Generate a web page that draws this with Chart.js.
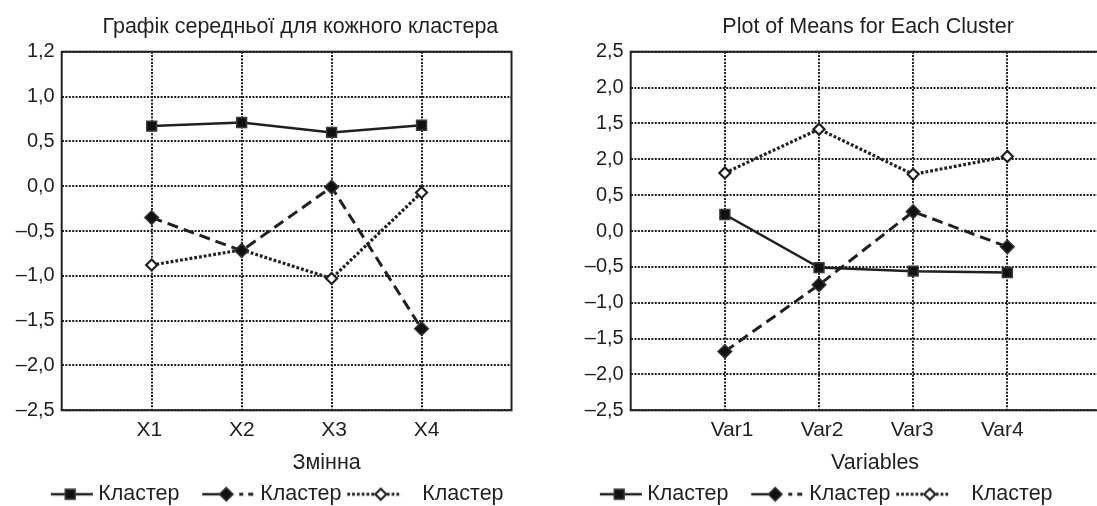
<!DOCTYPE html>
<html>
<head>
<meta charset="utf-8">
<script src="https://cdn.jsdelivr.net/npm/chart.js@4/dist/chart.umd.min.js"></script>
<style>
  html, body { margin: 0; padding: 0; background: #fff; overflow: hidden; }
  body { width: 1097px; height: 506px; position: relative; }
  canvas { position: absolute; top: 0; }
  #left { left: 0; }
  #right { left: 510px; }
</style>
</head>
<body>
<canvas id="left" width="520" height="515"></canvas>
<canvas id="right" width="600" height="515"></canvas>
<script>
const legendLabel = 'Кластер'

const leftTitle = 'Графік середньої для кожного кластера'
const leftAxisTitle = 'Змінна'
const leftCategories = ['X1', 'X2', 'X3', 'X4']
const leftYTicks = [-2.5, -2, -1.5, -1, -0.5, 0, 0.5, 1, 1.5]
const leftYLabels = ['–2,5', '–2,0', '–1,5', '–1,0', '–0,5', '0,0', '0,5', '1,0', '1,2']
const leftCluster1 = [0.67, 0.71, 0.60, 0.68]
const leftCluster2 = [-0.35, -0.72, -0.01, -1.59]
const leftCluster3 = [-0.88, -0.71, -1.03, -0.07]

const rightTitle = 'Plot of Means for Each Cluster'
const rightAxisTitle = 'Variables'
const rightCategories = ['Var1', 'Var2', 'Var3', 'Var4']
const rightYTicks = [-2.5, -2, -1.5, -1, -0.5, 0, 0.5, 1, 1.5, 2, 2.5]
const rightYLabels = ['–2,5', '–2,0', '–1,5', '–1,0', '–0,5', '0,0', '0,5', '2,0', '1,5', '2,0', '2,5']
const rightCluster1 = [0.23, -0.51, -0.56, -0.58]
const rightCluster2 = [-1.68, -0.75, 0.27, -0.22]
const rightCluster3 = [0.81, 1.42, 0.79, 1.04]

const ink = '#231f20'
const textSize = 21.5
Chart.defaults.font.family = "'Liberation Sans', Arial, sans-serif"
Chart.defaults.font.size = 20
Chart.defaults.color = ink

const seriesStyles = [
  { borderDash: [], borderWidth: 2.5, pointStyle: 'rect', pointRadius: 7, pointBackgroundColor: '#111', pointBorderColor: '#3a3a3a', pointBorderWidth: 1.5 },
  { borderDash: [11, 6], borderWidth: 3, pointStyle: 'rectRot', pointRadius: 6.8, pointBackgroundColor: '#111', pointBorderColor: '#333', pointBorderWidth: 1.5 },
  { borderDash: [2.8, 2], borderWidth: 3.2, pointStyle: 'rectRot', pointRadius: 5.5, pointBackgroundColor: '#fff', pointBorderColor: ink, pointBorderWidth: 2.2 },
]

// little line+marker pictures for the legend, offsets are from the legend box centre
function legendSample(k) {
  const c = document.createElement('canvas')
  c.width = 80
  c.height = 20
  const g = c.getContext('2d')
  const cx = 40.75, cy = 10
  const st = seriesStyles[k]
  const seg = (a, b, w, dash) => {
    g.save()
    g.strokeStyle = ink
    g.lineWidth = w
    g.setLineDash(dash)
    g.beginPath()
    g.moveTo(cx + a, cy)
    g.lineTo(cx + b, cy)
    g.stroke()
    g.restore()
  }
  let mx
  if (k === 0) {
    seg(-4.8, 37.2, 2.5, [])
    mx = 14.5
  } else if (k === 1) {
    seg(-15.5, 3, 2.5, [])
    seg(21.5, 25.5, 3, [])
    seg(30.5, 35.5, 3, [])
    mx = 8.5
  } else {
    seg(-32.5, -5, 3.2, [2.8, 2])
    seg(7, 21.5, 3.2, [2.8, 2])
    mx = 1
  }
  g.fillStyle = st.pointBackgroundColor
  g.strokeStyle = st.pointBorderColor
  g.lineWidth = st.pointBorderWidth
  Chart.helpers.drawPoint(g, { pointStyle: st.pointStyle, radius: st.pointRadius, borderWidth: st.pointBorderWidth, rotation: 0 }, cx + mx, cy)
  return c
}
const samples = [0, 1, 2].map(legendSample)

const frame = {
  id: 'frame',
  beforeDatasetsDraw(chart) {
    const { ctx, chartArea: a } = chart
    ctx.save()
    ctx.strokeStyle = ink
    ctx.lineWidth = 2
    ctx.strokeRect(a.left, a.top, a.right - a.left, a.bottom - a.top)
    ctx.restore()
  }
}

// the original figure has its titles a bit off centre
const nudge = {
  id: 'nudge',
  afterLayout(chart, args, opts) {
    const t = chart.titleBlock
    if (t) { t.left += opts.title; t.right += opts.title }
    const s = chart.scales.xl
    if (s) { s.left += opts.axisTitle; s.right += opts.axisTitle }
  }
}

function makeChart(id, c) {
  new Chart(document.getElementById(id), {
    type: 'line',
    data: {
      datasets: c.series.map((vals, k) => ({
        label: legendLabel,
        data: vals.map((y, i) => ({ x: i + 1, y })),
        xAxisID: 'x',
        yAxisID: 'y',
        borderColor: ink,
        backgroundColor: ink,
        fill: false,
        tension: 0,
        ...seriesStyles[k]
      }))
    },
    options: {
      responsive: false,
      animation: false,
      layout: { padding: { left: c.padLeft, right: c.padRight, top: 0, bottom: 0 } },
      plugins: {
        title: {
          display: true,
          text: c.title,
          color: ink,
          fullSize: false,
          font: { size: textSize, weight: 'normal' },
          padding: { top: 13.8, bottom: 12.1 }
        },
        legend: {
          position: 'bottom',
          labels: {
            color: ink,
            font: { size: textSize },
            usePointStyle: true,
            pointStyleWidth: 65,
            padding: 5,
            generateLabels: (chart) => {
              const items = Chart.defaults.plugins.legend.labels.generateLabels(chart)
              items.forEach((it, i) => { it.pointStyle = samples[i] })
              return items
            }
          }
        },
        tooltip: { enabled: false },
        nudge: { title: c.titleShift, axisTitle: c.axisTitleShift }
      },
      scales: {
        x: {
          type: 'linear',
          position: 'bottom',
          min: 0,
          max: 5,
          afterBuildTicks: (s) => { s.ticks = c.categories.map((_, i) => ({ value: i + 1 })) },
          ticks: { display: false },
          grid: { color: ink, lineWidth: 2, drawTicks: false },
          border: { display: false, dash: [2, 1.4] }
        },
        xl: {
          type: 'linear',
          position: 'bottom',
          min: c.labelMin,
          max: c.labelMax,
          afterBuildTicks: (s) => { s.ticks = c.categories.map((_, i) => ({ value: i + 1 })) },
          ticks: {
            autoSkip: false,
            maxRotation: 0,
            padding: 7.1,
            color: ink,
            font: { size: 21 },
            callback: (v, i) => c.categories[i]
          },
          grid: { display: false, drawTicks: false },
          border: { display: false },
          title: {
            display: true,
            text: c.axisTitle,
            color: ink,
            font: { size: textSize },
            padding: { top: 0.1, bottom: 2.9 }
          }
        },
        y: {
          type: 'linear',
          min: c.yTicks[0],
          max: c.yTicks[c.yTicks.length - 1],
          afterBuildTicks: (s) => { s.ticks = c.yTicks.map(v => ({ value: v })) },
          afterFit: (s) => { s.width = c.yWidth },
          ticks: {
            autoSkip: false,
            padding: 7,
            color: ink,
            font: { size: 20 },
            callback: (v, i) => c.yLabels[i]
          },
          grid: { color: ink, lineWidth: 2, drawTicks: false },
          border: { display: false, dash: [2, 1.4] }
        }
      }
    },
    plugins: [frame, nudge]
  })
}

makeChart('left', {
  title: leftTitle,
  axisTitle: leftAxisTitle,
  categories: leftCategories,
  yTicks: leftYTicks,
  yLabels: leftYLabels,
  series: [leftCluster1, leftCluster2, leftCluster3],
  padLeft: 8.3,
  padRight: 2.3,
  yWidth: 53.4,
  labelMin: 0.05,
  labelMax: 4.92,
  titleShift: 13.8,
  axisTitleShift: 40
})

makeChart('right', {
  title: rightTitle,
  axisTitle: rightAxisTitle,
  categories: rightCategories,
  yTicks: rightYTicks,
  yLabels: rightYLabels,
  series: [rightCluster1, rightCluster2, rightCluster3],
  padLeft: 5.3,
  padRight: 1.3,
  yWidth: 115.4,
  labelMin: -0.125,
  labelMax: 5.101,
  titleShift: 2,
  axisTitleShift: 9
})
</script>
</body>
</html>
